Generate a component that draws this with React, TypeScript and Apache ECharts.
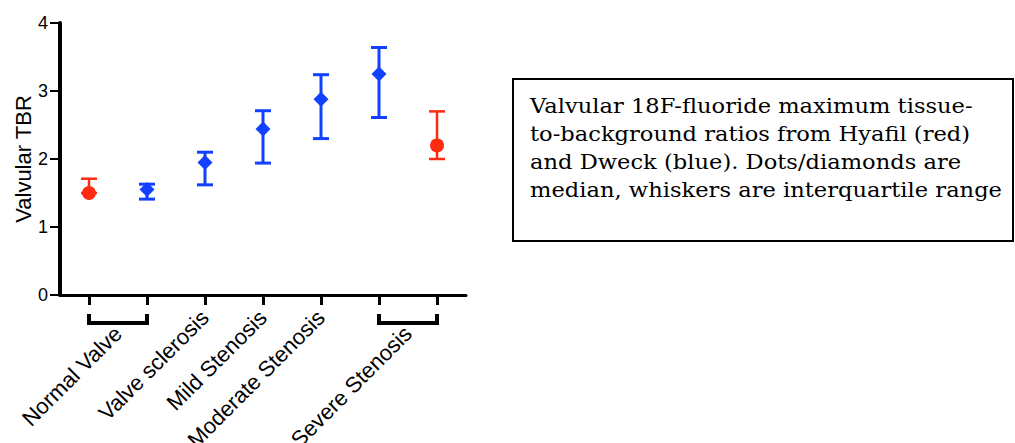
import React, { useEffect, useRef } from "react";
import * as echarts from "echarts";

// Positions along the x axis (7 slots)
const slots = ["0", "1", "2", "3", "4", "5", "6"];
const study = ["Hyafil", "Dweck", "Dweck", "Dweck", "Dweck", "Dweck", "Hyafil"];
const medians = [1.5, 1.55, 1.95, 2.44, 2.88, 3.25, 2.2];
const q1 = [1.5, 1.41, 1.62, 1.94, 2.3, 2.61, 2.0];
const q3 = [1.71, 1.63, 2.1, 2.71, 3.24, 3.64, 2.7];

// Group labels and where they sit along the slot axis
const singleLabels = ["Valve sclerosis", "Mild Stenosis", "Moderate Stenosis"];
const singlePos = [2, 3, 4];
const bracketLabels = ["Normal Valve", "Severe Stenosis"];
const bracketPairs = [
  [0, 1],
  [5, 6],
];

const yTicks = [0, 1, 2, 3, 4];

const RED = "#ff2a12";
const BLUE = "#1240ff";
const SANS = "Liberation Sans, Arial, sans-serif";

const noteLines = [
  "Valvular 18F-fluoride maximum tissue-",
  "to-background ratios from Hyafil (red)",
  "and Dweck (blue). Dots/diamonds are",
  "median, whiskers are interquartile range",
];

function errData(name: string) {
  const out: number[][] = [];
  for (let i = 0; i < slots.length; i++) {
    if (study[i] === name) out.push([i, q1[i], q3[i]]);
  }
  return out;
}
function medData(name: string) {
  const out: number[][] = [];
  for (let i = 0; i < slots.length; i++) {
    if (study[i] === name) out.push([i, medians[i]]);
  }
  return out;
}

function errRender(color: string, width: number) {
  return (params: any, api: any) => {
    const x = api.value(0);
    const lo = api.coord([x, api.value(1)]);
    const hi = api.coord([x, api.value(2)]);
    const hw = 8;
    const style = { stroke: color, lineWidth: width };
    return {
      type: "group",
      children: [
        { type: "line", shape: { x1: lo[0], y1: lo[1], x2: hi[0], y2: hi[1] }, style },
        { type: "line", shape: { x1: hi[0] - hw, y1: hi[1], x2: hi[0] + hw, y2: hi[1] }, style },
        { type: "line", shape: { x1: lo[0] - hw, y1: lo[1], x2: lo[0] + hw, y2: lo[1] }, style },
      ],
    };
  };
}

export default function App() {
  const ref = useRef<HTMLDivElement>(null);
  useEffect(() => {
    if (!ref.current) return;
    const chart = echarts.init(ref.current, null, { renderer: "svg" });
    const labelAxisBase = {
      type: "value",
      gridIndex: 0,
      position: "bottom",
      min: -0.5,
      max: 6.5,
      interval: 0.5,
      axisLine: { show: false, onZero: false },
      axisTick: { show: false },
      splitLine: { show: false },
    };
    chart.setOption({
      animation: false,
      grid: {
        left: 60,
        right: 549,
        top: 23,
        bottom: 148,
        containLabel: false,
        outerBoundsMode: "none",
      },
      xAxis: [
        {
          type: "category",
          data: slots,
          boundaryGap: true,
          axisLine: { show: true, onZero: false, lineStyle: { color: "#000", width: 3 } },
          axisTick: { show: true, alignWithLabel: true, length: 10, lineStyle: { color: "#000", width: 3 } },
          axisLabel: { show: false },
          splitLine: { show: false },
        },
        {
          ...labelAxisBase,
          axisLabel: {
            rotate: 45,
            margin: 19,
            fontFamily: SANS,
            fontSize: 22,
            color: "#000",
            showMinLabel: true,
            showMaxLabel: true,
            hideOverlap: false,
            interval: 0,
            formatter: (v: number) => {
              const k = singlePos.indexOf(v);
              return k >= 0 ? singleLabels[k] : "";
            },
          },
        },
        {
          ...labelAxisBase,
          axisLabel: {
            rotate: 45,
            margin: 35,
            fontFamily: SANS,
            fontSize: 22,
            color: "#000",
            hideOverlap: false,
            interval: 0,
            formatter: (v: number) => {
              for (let k = 0; k < bracketPairs.length; k++) {
                if ((bracketPairs[k][0] + bracketPairs[k][1]) / 2 === v) return bracketLabels[k];
              }
              return "";
            },
          },
        },
      ],
      yAxis: {
        type: "value",
        min: yTicks[0],
        max: yTicks[yTicks.length - 1],
        interval: 1,
        name: "Valvular TBR",
        nameLocation: "middle",
        nameGap: 26,
        nameRotate: 90,
        nameMoveOverlap: false,
        nameTextStyle: { fontFamily: SANS, fontSize: 22, color: "#000" },
        axisLine: { show: true, onZero: false, lineStyle: { color: "#000", width: 4 } },
        axisTick: { show: true, length: 10, lineStyle: { color: "#000", width: 2 } },
        axisLabel: { margin: 12, fontFamily: SANS, fontSize: 18, color: "#000" },
        splitLine: { show: false },
      },
      series: [
        {
          type: "custom",
          name: "brackets",
          xAxisIndex: 0,
          data: bracketPairs,
          encode: { x: [0, 1] },
          silent: true,
          renderItem: (params: any, api: any) => {
            const a = api.coord([api.value(0), 0]);
            const b = api.coord([api.value(1), 0]);
            const y0 = a[1] + 19;
            const y1 = a[1] + 28;
            return {
              type: "polyline",
              shape: { points: [[a[0], y0], [a[0], y1], [b[0], y1], [b[0], y0]] },
              style: { stroke: "#000", lineWidth: 4, fill: "none" },
            };
          },
        },
        {
          type: "custom",
          name: "Hyafil IQR",
          xAxisIndex: 0,
          data: errData("Hyafil"),
          encode: { x: 0, y: [1, 2] },
          renderItem: errRender(RED, 2.5),
          z: 2,
        },
        {
          type: "custom",
          name: "Dweck IQR",
          xAxisIndex: 0,
          data: errData("Dweck"),
          encode: { x: 0, y: [1, 2] },
          renderItem: errRender(BLUE, 3),
          z: 2,
        },
        {
          type: "scatter",
          name: "Hyafil",
          xAxisIndex: 0,
          data: medData("Hyafil"),
          symbol: "circle",
          symbolSize: 14,
          itemStyle: { color: RED, opacity: 1 },
          z: 3,
        },
        {
          type: "scatter",
          name: "Dweck",
          xAxisIndex: 0,
          data: medData("Dweck"),
          symbol: "diamond",
          symbolSize: [15, 15],
          itemStyle: { color: BLUE, opacity: 1 },
          z: 3,
        },
      ],
      graphic: [
        {
          type: "rect",
          shape: { x: 513, y: 79, width: 500, height: 162 },
          style: { fill: "#fff", stroke: "#000", lineWidth: 2 },
        },
        {
          type: "text",
          x: 530,
          y: 92,
          scaleX: 1.13,
          style: {
            text: noteLines.join("\n"),
            fontFamily: "DejaVu Serif, serif",
            fontSize: 20,
            lineHeight: 28,
            fill: "#000",
            verticalAlign: "top",
          },
        },
      ],
    });
    return () => chart.dispose();
  }, []);
  return (
    <div
      ref={ref}
      style={{ position: "absolute", left: 0, top: 0, width: 1015, height: 443, background: "#fff" }}
    />
  );
}
